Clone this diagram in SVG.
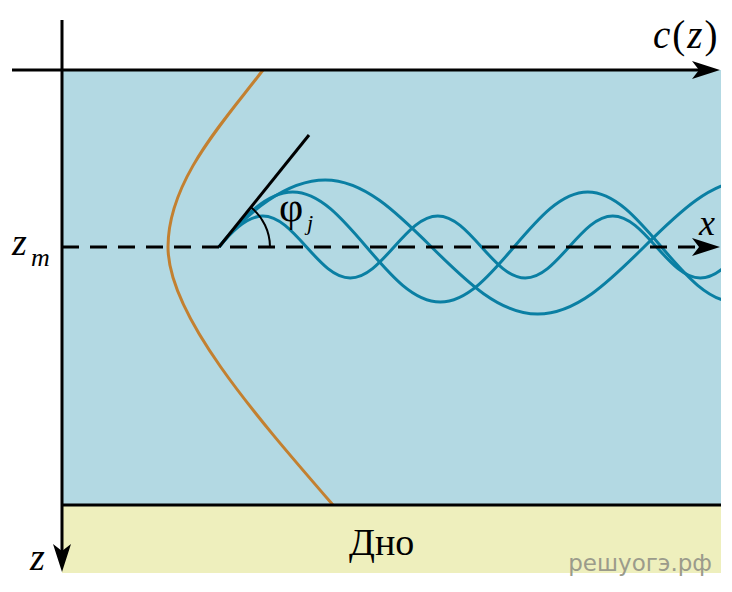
<svg xmlns="http://www.w3.org/2000/svg" width="732" height="592" viewBox="0 0 732 592">
<style>
.ax{stroke:#000;stroke-width:3;fill:none}
.ray{stroke:#0a7fa3;stroke-width:3;fill:none}
.t{font-family:"Liberation Serif","Times New Roman",serif;fill:#000}
.i{font-style:italic}
</style>
<defs>
<marker id="arr" viewBox="0 -10 30 20" markerWidth="30" markerHeight="20" refX="7" refY="0" orient="auto" markerUnits="userSpaceOnUse">
<path d="M0,-9 L28,0 L0,9 L7,0 Z" fill="#000"/>
</marker>
<clipPath id="water"><rect x="62" y="60" width="659" height="445"/></clipPath>
</defs>
<rect width="732" height="592" fill="#fff"/>
<g id="water-layer">
<rect x="62" y="70" width="659" height="435" fill="#b3d9e3"/>
</g>
<g id="bottom-layer">
<rect x="62" y="505" width="659" height="68" fill="#eeefbd"/>
<text class="t" x="349" y="555" font-size="38">Дно</text>
</g>
<g id="sound-speed-profile">
<path d="M263,70 C225,120 168,180 168,247 C168,315 255,415 333,505" stroke="#c38030" stroke-width="3" fill="none"/>
</g>
<g id="rays" clip-path="url(#water)">
<path class="ray" d="M219,247 C232.1,230.72 247,216 262.75,216 C278.5,216 291.87,230.72 306.5,247 C321.13,263.28 334.5,278 350.25,278 C366,278 379.37,263.28 394,247 C408.63,230.72 422,216 437.75,216 C453.5,216 466.87,230.72 481.5,247 C496.13,263.28 509.5,278 525.25,278 C541,278 554.37,263.28 569,247 C583.63,230.72 597,216 612.75,216 C628.5,216 641.87,230.72 656.5,247 C671.13,263.28 684.5,278 700.25,278 C716,278 729.37,263.28 744,247"/>
<path class="ray" d="M219,247 C242.3,218.12 266.21,192 292.75,192 C319.29,192 341.85,218.12 366.5,247 C391.15,275.88 413.71,302 440.25,302 C466.79,302 489.35,275.88 514,247 C538.65,218.12 561.21,192 587.75,192 C614.29,192 636.85,218.12 661.5,247 C686.15,275.88 708.71,302 735.25,302"/>
<path class="ray" d="M219,247 C247.4,211.82 287.01,180 325.25,180 C363.49,180 396,211.82 431.5,247 C467.02,282.18 499.51,314 537.75,314 C575.99,314 608.48,282.18 644,247 C679.52,211.82 712.01,180 750.25,180"/>
</g>
<g id="angle">
<line class="ax" x1="219" y1="247" x2="309" y2="135" stroke-width="2.5"/>
<path d="M250.9,207.3 A51,51 0 0 1 270,247" stroke="#000" stroke-width="2" fill="none"/>
<text class="t" x="279" y="221" font-size="42">φ</text>
<text class="t i" x="307" y="230" font-size="22">j</text>
</g>
<g id="axes">
<line class="ax" x1="62" y1="20" x2="62" y2="551" marker-end="url(#arr)"/>
<line class="ax" x1="12" y1="70" x2="699" y2="70" marker-end="url(#arr)"/>
<line class="ax" x1="62" y1="505" x2="721" y2="505"/>
<line class="ax" x1="62" y1="247" x2="699" y2="247" stroke-dasharray="17 11" marker-end="url(#arr)"/>
</g>
<g id="labels">
<text class="t" x="653" y="48" font-size="39" letter-spacing="2"><tspan class="i">c</tspan>(<tspan class="i">z</tspan>)</text>
<text class="t i" x="699" y="235" font-size="36">x</text>
<text class="t i" x="12" y="255" font-size="38">z</text>
<text class="t i" x="31" y="266" font-size="26">m</text>
<text class="t i" x="30" y="570" font-size="38">z</text>
</g>
<text x="712" y="571" text-anchor="end" font-family="DejaVu Sans,sans-serif" font-size="23" fill="#9b9b8b">решуогэ.рф</text>
</svg>
